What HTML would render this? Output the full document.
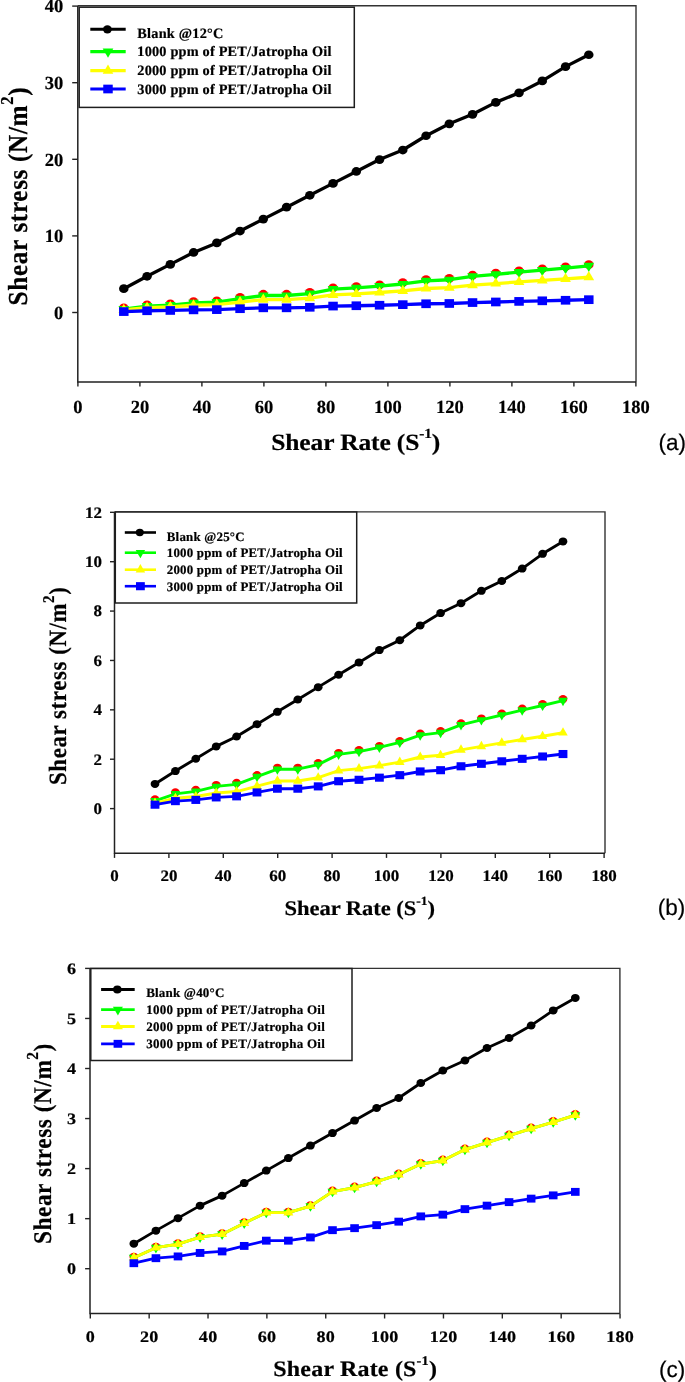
<!DOCTYPE html>
<html><head><meta charset="utf-8"><title>Shear stress vs shear rate</title>
<style>html,body{margin:0;padding:0;background:#fff;width:685px;height:1382px;overflow:hidden}svg{display:block;will-change:transform}text{text-rendering:geometricPrecision;stroke:#000;stroke-width:0.2px}</style>
</head><body>
<svg width="685" height="1382" viewBox="0 0 685 1382">
<rect width="685" height="1382" fill="#fff"/>
<path d="M77.8 5.8H636V381.9" fill="none" stroke="#333333" stroke-width="1.4"/>
<path d="M77.8 5.8V381.9H636" fill="none" stroke="#222222" stroke-width="1.5"/>
<path d="M72.2 312.5H77.8" stroke="#222222" stroke-width="1.4"/>
<text transform="translate(63.34 318.7) scale(1 1)" font-family='"Liberation Serif", serif' font-weight="bold" font-size="18.5" text-anchor="end">0</text>
<path d="M72.2 235.9H77.8" stroke="#222222" stroke-width="1.4"/>
<text transform="translate(63.34 242.1) scale(1 1)" font-family='"Liberation Serif", serif' font-weight="bold" font-size="18.5" text-anchor="end">10</text>
<path d="M72.2 159.3H77.8" stroke="#222222" stroke-width="1.4"/>
<text transform="translate(63.34 165.5) scale(1 1)" font-family='"Liberation Serif", serif' font-weight="bold" font-size="18.5" text-anchor="end">20</text>
<path d="M72.2 82.7H77.8" stroke="#222222" stroke-width="1.4"/>
<text transform="translate(63.34 88.9) scale(1 1)" font-family='"Liberation Serif", serif' font-weight="bold" font-size="18.5" text-anchor="end">30</text>
<path d="M72.2 6.1H77.8" stroke="#222222" stroke-width="1.4"/>
<text transform="translate(63.34 12.3) scale(1 1)" font-family='"Liberation Serif", serif' font-weight="bold" font-size="18.5" text-anchor="end">40</text>
<path d="M77.9 381.9V386.6" stroke="#222222" stroke-width="1.4"/>
<text transform="translate(77.9 412.8) scale(1 1)" font-family='"Liberation Serif", serif' font-weight="bold" font-size="18.5" text-anchor="middle">0</text>
<path d="M139.9 381.9V386.6" stroke="#222222" stroke-width="1.4"/>
<text transform="translate(139.9 412.8) scale(1 1)" font-family='"Liberation Serif", serif' font-weight="bold" font-size="18.5" text-anchor="middle">20</text>
<path d="M201.9 381.9V386.6" stroke="#222222" stroke-width="1.4"/>
<text transform="translate(201.9 412.8) scale(1 1)" font-family='"Liberation Serif", serif' font-weight="bold" font-size="18.5" text-anchor="middle">40</text>
<path d="M263.9 381.9V386.6" stroke="#222222" stroke-width="1.4"/>
<text transform="translate(263.9 412.8) scale(1 1)" font-family='"Liberation Serif", serif' font-weight="bold" font-size="18.5" text-anchor="middle">60</text>
<path d="M325.9 381.9V386.6" stroke="#222222" stroke-width="1.4"/>
<text transform="translate(325.9 412.8) scale(1 1)" font-family='"Liberation Serif", serif' font-weight="bold" font-size="18.5" text-anchor="middle">80</text>
<path d="M387.9 381.9V386.6" stroke="#222222" stroke-width="1.4"/>
<text transform="translate(387.9 412.8) scale(1 1)" font-family='"Liberation Serif", serif' font-weight="bold" font-size="18.5" text-anchor="middle">100</text>
<path d="M449.9 381.9V386.6" stroke="#222222" stroke-width="1.4"/>
<text transform="translate(449.9 412.8) scale(1 1)" font-family='"Liberation Serif", serif' font-weight="bold" font-size="18.5" text-anchor="middle">120</text>
<path d="M511.9 381.9V386.6" stroke="#222222" stroke-width="1.4"/>
<text transform="translate(511.9 412.8) scale(1 1)" font-family='"Liberation Serif", serif' font-weight="bold" font-size="18.5" text-anchor="middle">140</text>
<path d="M573.9 381.9V386.6" stroke="#222222" stroke-width="1.4"/>
<text transform="translate(573.9 412.8) scale(1 1)" font-family='"Liberation Serif", serif' font-weight="bold" font-size="18.5" text-anchor="middle">160</text>
<path d="M635.9 381.9V386.6" stroke="#222222" stroke-width="1.4"/>
<text transform="translate(635.9 412.8) scale(1 1)" font-family='"Liberation Serif", serif' font-weight="bold" font-size="18.5" text-anchor="middle">180</text>
<circle transform="translate(123.8 307.86) scale(1.09 1)" r="4.35" fill="#ff0000"/>
<circle transform="translate(147.05 304.83) scale(1.09 1)" r="4.35" fill="#ff0000"/>
<circle transform="translate(170.3 303.77) scale(1.09 1)" r="4.35" fill="#ff0000"/>
<circle transform="translate(193.55 301.64) scale(1.09 1)" r="4.35" fill="#ff0000"/>
<circle transform="translate(216.8 300.73) scale(1.09 1)" r="4.35" fill="#ff0000"/>
<circle transform="translate(240.05 297.4) scale(1.09 1)" r="4.35" fill="#ff0000"/>
<circle transform="translate(263.3 294.21) scale(1.09 1)" r="4.35" fill="#ff0000"/>
<circle transform="translate(286.55 294.21) scale(1.09 1)" r="4.35" fill="#ff0000"/>
<circle transform="translate(309.8 292.24) scale(1.09 1)" r="4.35" fill="#ff0000"/>
<circle transform="translate(333.05 287.84) scale(1.09 1)" r="4.35" fill="#ff0000"/>
<circle transform="translate(356.3 286.63) scale(1.09 1)" r="4.35" fill="#ff0000"/>
<circle transform="translate(379.55 284.81) scale(1.09 1)" r="4.35" fill="#ff0000"/>
<circle transform="translate(402.8 282.69) scale(1.09 1)" r="4.35" fill="#ff0000"/>
<circle transform="translate(426.05 279.5) scale(1.09 1)" r="4.35" fill="#ff0000"/>
<circle transform="translate(449.3 278.44) scale(1.09 1)" r="4.35" fill="#ff0000"/>
<circle transform="translate(472.55 275.1) scale(1.09 1)" r="4.35" fill="#ff0000"/>
<circle transform="translate(495.8 272.98) scale(1.09 1)" r="4.35" fill="#ff0000"/>
<circle transform="translate(519.05 270.86) scale(1.09 1)" r="4.35" fill="#ff0000"/>
<circle transform="translate(542.3 268.73) scale(1.09 1)" r="4.35" fill="#ff0000"/>
<circle transform="translate(565.55 266.76) scale(1.09 1)" r="4.35" fill="#ff0000"/>
<circle transform="translate(588.8 264.64) scale(1.09 1)" r="4.35" fill="#ff0000"/>
<polyline points="123.8,309.16 147.05,306.13 170.3,305.07 193.55,302.94 216.8,302.03 240.05,298.7 263.3,295.51 286.55,295.51 309.8,293.54 333.05,289.14 356.3,287.93 379.55,286.11 402.8,283.99 426.05,280.8 449.3,279.74 472.55,276.4 495.8,274.28 519.05,272.16 542.3,270.03 565.55,268.06 588.8,265.94" fill="none" stroke="#00ff00" stroke-width="3.3" stroke-linejoin="round"/>
<path transform="translate(123.8 309.16) scale(1.09 1)" d="M-4.9 -3.07L4.9 -3.07L0 6.13Z" fill="#00ff00"/>
<path transform="translate(147.05 306.13) scale(1.09 1)" d="M-4.9 -3.07L4.9 -3.07L0 6.13Z" fill="#00ff00"/>
<path transform="translate(170.3 305.07) scale(1.09 1)" d="M-4.9 -3.07L4.9 -3.07L0 6.13Z" fill="#00ff00"/>
<path transform="translate(193.55 302.94) scale(1.09 1)" d="M-4.9 -3.07L4.9 -3.07L0 6.13Z" fill="#00ff00"/>
<path transform="translate(216.8 302.03) scale(1.09 1)" d="M-4.9 -3.07L4.9 -3.07L0 6.13Z" fill="#00ff00"/>
<path transform="translate(240.05 298.7) scale(1.09 1)" d="M-4.9 -3.07L4.9 -3.07L0 6.13Z" fill="#00ff00"/>
<path transform="translate(263.3 295.51) scale(1.09 1)" d="M-4.9 -3.07L4.9 -3.07L0 6.13Z" fill="#00ff00"/>
<path transform="translate(286.55 295.51) scale(1.09 1)" d="M-4.9 -3.07L4.9 -3.07L0 6.13Z" fill="#00ff00"/>
<path transform="translate(309.8 293.54) scale(1.09 1)" d="M-4.9 -3.07L4.9 -3.07L0 6.13Z" fill="#00ff00"/>
<path transform="translate(333.05 289.14) scale(1.09 1)" d="M-4.9 -3.07L4.9 -3.07L0 6.13Z" fill="#00ff00"/>
<path transform="translate(356.3 287.93) scale(1.09 1)" d="M-4.9 -3.07L4.9 -3.07L0 6.13Z" fill="#00ff00"/>
<path transform="translate(379.55 286.11) scale(1.09 1)" d="M-4.9 -3.07L4.9 -3.07L0 6.13Z" fill="#00ff00"/>
<path transform="translate(402.8 283.99) scale(1.09 1)" d="M-4.9 -3.07L4.9 -3.07L0 6.13Z" fill="#00ff00"/>
<path transform="translate(426.05 280.8) scale(1.09 1)" d="M-4.9 -3.07L4.9 -3.07L0 6.13Z" fill="#00ff00"/>
<path transform="translate(449.3 279.74) scale(1.09 1)" d="M-4.9 -3.07L4.9 -3.07L0 6.13Z" fill="#00ff00"/>
<path transform="translate(472.55 276.4) scale(1.09 1)" d="M-4.9 -3.07L4.9 -3.07L0 6.13Z" fill="#00ff00"/>
<path transform="translate(495.8 274.28) scale(1.09 1)" d="M-4.9 -3.07L4.9 -3.07L0 6.13Z" fill="#00ff00"/>
<path transform="translate(519.05 272.16) scale(1.09 1)" d="M-4.9 -3.07L4.9 -3.07L0 6.13Z" fill="#00ff00"/>
<path transform="translate(542.3 270.03) scale(1.09 1)" d="M-4.9 -3.07L4.9 -3.07L0 6.13Z" fill="#00ff00"/>
<path transform="translate(565.55 268.06) scale(1.09 1)" d="M-4.9 -3.07L4.9 -3.07L0 6.13Z" fill="#00ff00"/>
<path transform="translate(588.8 265.94) scale(1.09 1)" d="M-4.9 -3.07L4.9 -3.07L0 6.13Z" fill="#00ff00"/>
<polyline points="123.8,309.97 147.05,307.67 170.3,306.87 193.55,305.26 216.8,304.57 240.05,302.04 263.3,299.63 286.55,299.63 309.8,298.14 333.05,294.81 356.3,293.89 379.55,292.51 402.8,290.9 426.05,288.49 449.3,287.68 472.55,285.15 495.8,283.55 519.05,281.94 542.3,280.33 565.55,278.83 588.8,277.23" fill="none" stroke="#ffff00" stroke-width="3.3" stroke-linejoin="round"/>
<path transform="translate(123.8 309.97) scale(1.09 1)" d="M-4.9 3.07L4.9 3.07L0 -6.13Z" fill="#ffff00"/>
<path transform="translate(147.05 307.67) scale(1.09 1)" d="M-4.9 3.07L4.9 3.07L0 -6.13Z" fill="#ffff00"/>
<path transform="translate(170.3 306.87) scale(1.09 1)" d="M-4.9 3.07L4.9 3.07L0 -6.13Z" fill="#ffff00"/>
<path transform="translate(193.55 305.26) scale(1.09 1)" d="M-4.9 3.07L4.9 3.07L0 -6.13Z" fill="#ffff00"/>
<path transform="translate(216.8 304.57) scale(1.09 1)" d="M-4.9 3.07L4.9 3.07L0 -6.13Z" fill="#ffff00"/>
<path transform="translate(240.05 302.04) scale(1.09 1)" d="M-4.9 3.07L4.9 3.07L0 -6.13Z" fill="#ffff00"/>
<path transform="translate(263.3 299.63) scale(1.09 1)" d="M-4.9 3.07L4.9 3.07L0 -6.13Z" fill="#ffff00"/>
<path transform="translate(286.55 299.63) scale(1.09 1)" d="M-4.9 3.07L4.9 3.07L0 -6.13Z" fill="#ffff00"/>
<path transform="translate(309.8 298.14) scale(1.09 1)" d="M-4.9 3.07L4.9 3.07L0 -6.13Z" fill="#ffff00"/>
<path transform="translate(333.05 294.81) scale(1.09 1)" d="M-4.9 3.07L4.9 3.07L0 -6.13Z" fill="#ffff00"/>
<path transform="translate(356.3 293.89) scale(1.09 1)" d="M-4.9 3.07L4.9 3.07L0 -6.13Z" fill="#ffff00"/>
<path transform="translate(379.55 292.51) scale(1.09 1)" d="M-4.9 3.07L4.9 3.07L0 -6.13Z" fill="#ffff00"/>
<path transform="translate(402.8 290.9) scale(1.09 1)" d="M-4.9 3.07L4.9 3.07L0 -6.13Z" fill="#ffff00"/>
<path transform="translate(426.05 288.49) scale(1.09 1)" d="M-4.9 3.07L4.9 3.07L0 -6.13Z" fill="#ffff00"/>
<path transform="translate(449.3 287.68) scale(1.09 1)" d="M-4.9 3.07L4.9 3.07L0 -6.13Z" fill="#ffff00"/>
<path transform="translate(472.55 285.15) scale(1.09 1)" d="M-4.9 3.07L4.9 3.07L0 -6.13Z" fill="#ffff00"/>
<path transform="translate(495.8 283.55) scale(1.09 1)" d="M-4.9 3.07L4.9 3.07L0 -6.13Z" fill="#ffff00"/>
<path transform="translate(519.05 281.94) scale(1.09 1)" d="M-4.9 3.07L4.9 3.07L0 -6.13Z" fill="#ffff00"/>
<path transform="translate(542.3 280.33) scale(1.09 1)" d="M-4.9 3.07L4.9 3.07L0 -6.13Z" fill="#ffff00"/>
<path transform="translate(565.55 278.83) scale(1.09 1)" d="M-4.9 3.07L4.9 3.07L0 -6.13Z" fill="#ffff00"/>
<path transform="translate(588.8 277.23) scale(1.09 1)" d="M-4.9 3.07L4.9 3.07L0 -6.13Z" fill="#ffff00"/>
<polyline points="123.8,311.58 147.05,310.75 170.3,310.45 193.55,309.87 216.8,309.62 240.05,308.7 263.3,307.82 286.55,307.82 309.8,307.28 333.05,306.07 356.3,305.74 379.55,305.24 402.8,304.65 426.05,303.77 449.3,303.48 472.55,302.56 495.8,301.98 519.05,301.4 542.3,300.81 565.55,300.27 588.8,299.68" fill="none" stroke="#0000ff" stroke-width="3.3" stroke-linejoin="round"/>
<rect transform="translate(123.8 311.58) scale(1.09 1)" x="-4.35" y="-4.35" width="8.7" height="8.7" fill="#0000ff"/>
<rect transform="translate(147.05 310.75) scale(1.09 1)" x="-4.35" y="-4.35" width="8.7" height="8.7" fill="#0000ff"/>
<rect transform="translate(170.3 310.45) scale(1.09 1)" x="-4.35" y="-4.35" width="8.7" height="8.7" fill="#0000ff"/>
<rect transform="translate(193.55 309.87) scale(1.09 1)" x="-4.35" y="-4.35" width="8.7" height="8.7" fill="#0000ff"/>
<rect transform="translate(216.8 309.62) scale(1.09 1)" x="-4.35" y="-4.35" width="8.7" height="8.7" fill="#0000ff"/>
<rect transform="translate(240.05 308.7) scale(1.09 1)" x="-4.35" y="-4.35" width="8.7" height="8.7" fill="#0000ff"/>
<rect transform="translate(263.3 307.82) scale(1.09 1)" x="-4.35" y="-4.35" width="8.7" height="8.7" fill="#0000ff"/>
<rect transform="translate(286.55 307.82) scale(1.09 1)" x="-4.35" y="-4.35" width="8.7" height="8.7" fill="#0000ff"/>
<rect transform="translate(309.8 307.28) scale(1.09 1)" x="-4.35" y="-4.35" width="8.7" height="8.7" fill="#0000ff"/>
<rect transform="translate(333.05 306.07) scale(1.09 1)" x="-4.35" y="-4.35" width="8.7" height="8.7" fill="#0000ff"/>
<rect transform="translate(356.3 305.74) scale(1.09 1)" x="-4.35" y="-4.35" width="8.7" height="8.7" fill="#0000ff"/>
<rect transform="translate(379.55 305.24) scale(1.09 1)" x="-4.35" y="-4.35" width="8.7" height="8.7" fill="#0000ff"/>
<rect transform="translate(402.8 304.65) scale(1.09 1)" x="-4.35" y="-4.35" width="8.7" height="8.7" fill="#0000ff"/>
<rect transform="translate(426.05 303.77) scale(1.09 1)" x="-4.35" y="-4.35" width="8.7" height="8.7" fill="#0000ff"/>
<rect transform="translate(449.3 303.48) scale(1.09 1)" x="-4.35" y="-4.35" width="8.7" height="8.7" fill="#0000ff"/>
<rect transform="translate(472.55 302.56) scale(1.09 1)" x="-4.35" y="-4.35" width="8.7" height="8.7" fill="#0000ff"/>
<rect transform="translate(495.8 301.98) scale(1.09 1)" x="-4.35" y="-4.35" width="8.7" height="8.7" fill="#0000ff"/>
<rect transform="translate(519.05 301.4) scale(1.09 1)" x="-4.35" y="-4.35" width="8.7" height="8.7" fill="#0000ff"/>
<rect transform="translate(542.3 300.81) scale(1.09 1)" x="-4.35" y="-4.35" width="8.7" height="8.7" fill="#0000ff"/>
<rect transform="translate(565.55 300.27) scale(1.09 1)" x="-4.35" y="-4.35" width="8.7" height="8.7" fill="#0000ff"/>
<rect transform="translate(588.8 299.68) scale(1.09 1)" x="-4.35" y="-4.35" width="8.7" height="8.7" fill="#0000ff"/>
<polyline points="123.8,288.68 147.05,276.29 170.3,264.38 193.55,252.47 216.8,242.94 240.05,231.03 263.3,219.12 286.55,207.2 309.8,195.29 333.05,183.38 356.3,171.47 379.55,159.56 402.8,150.03 426.05,135.74 449.3,123.83 472.55,114.3 495.8,102.38 519.05,92.86 542.3,80.94 565.55,66.65 588.8,54.74" fill="none" stroke="#000000" stroke-width="3.3" stroke-linejoin="round"/>
<circle transform="translate(123.8 288.68) scale(1.09 1)" r="4.35" fill="#000000"/>
<circle transform="translate(147.05 276.29) scale(1.09 1)" r="4.35" fill="#000000"/>
<circle transform="translate(170.3 264.38) scale(1.09 1)" r="4.35" fill="#000000"/>
<circle transform="translate(193.55 252.47) scale(1.09 1)" r="4.35" fill="#000000"/>
<circle transform="translate(216.8 242.94) scale(1.09 1)" r="4.35" fill="#000000"/>
<circle transform="translate(240.05 231.03) scale(1.09 1)" r="4.35" fill="#000000"/>
<circle transform="translate(263.3 219.12) scale(1.09 1)" r="4.35" fill="#000000"/>
<circle transform="translate(286.55 207.2) scale(1.09 1)" r="4.35" fill="#000000"/>
<circle transform="translate(309.8 195.29) scale(1.09 1)" r="4.35" fill="#000000"/>
<circle transform="translate(333.05 183.38) scale(1.09 1)" r="4.35" fill="#000000"/>
<circle transform="translate(356.3 171.47) scale(1.09 1)" r="4.35" fill="#000000"/>
<circle transform="translate(379.55 159.56) scale(1.09 1)" r="4.35" fill="#000000"/>
<circle transform="translate(402.8 150.03) scale(1.09 1)" r="4.35" fill="#000000"/>
<circle transform="translate(426.05 135.74) scale(1.09 1)" r="4.35" fill="#000000"/>
<circle transform="translate(449.3 123.83) scale(1.09 1)" r="4.35" fill="#000000"/>
<circle transform="translate(472.55 114.3) scale(1.09 1)" r="4.35" fill="#000000"/>
<circle transform="translate(495.8 102.38) scale(1.09 1)" r="4.35" fill="#000000"/>
<circle transform="translate(519.05 92.86) scale(1.09 1)" r="4.35" fill="#000000"/>
<circle transform="translate(542.3 80.94) scale(1.09 1)" r="4.35" fill="#000000"/>
<circle transform="translate(565.55 66.65) scale(1.09 1)" r="4.35" fill="#000000"/>
<circle transform="translate(588.8 54.74) scale(1.09 1)" r="4.35" fill="#000000"/>
<rect x="79.2" y="7.2" width="275.1" height="100.2" fill="#fff" stroke="#1e1e1e" stroke-width="1.5"/>
<path d="M90.3 29.3H125.7" stroke="#000000" stroke-width="3.1"/>
<circle transform="translate(107.4 29.3) scale(1.09 1)" r="4.1" fill="#000000"/>
<text transform="translate(137.31 38.3) scale(1 1)" font-family='"Liberation Serif", serif' font-weight="bold" font-size="14.3" text-anchor="start" textLength="86" lengthAdjust="spacing">Blank @12°C</text>
<path d="M90.3 51.6H125.7" stroke="#00ff00" stroke-width="3.1"/>
<path transform="translate(108 51.6) scale(1.09 1)" d="M-4.9 -3.07L4.9 -3.07L0 6.13Z" fill="#00ff00"/>
<text transform="translate(137.31 56.4) scale(1 1)" font-family='"Liberation Serif", serif' font-weight="bold" font-size="14.3" text-anchor="start" textLength="194.1" lengthAdjust="spacing">1000 ppm of PET/Jatropha Oil</text>
<path d="M90.3 70.6H125.7" stroke="#ffff00" stroke-width="3.1"/>
<path transform="translate(108 70.6) scale(1.09 1)" d="M-4.9 3.07L4.9 3.07L0 -6.13Z" fill="#ffff00"/>
<text transform="translate(137.31 75.2) scale(1 1)" font-family='"Liberation Serif", serif' font-weight="bold" font-size="14.3" text-anchor="start" textLength="194.1" lengthAdjust="spacing">2000 ppm of PET/Jatropha Oil</text>
<path d="M90.3 89H125.7" stroke="#0000ff" stroke-width="3.1"/>
<rect transform="translate(108 89) scale(1.09 1)" x="-4.35" y="-4.35" width="8.7" height="8.7" fill="#0000ff"/>
<text transform="translate(137.31 93.6) scale(1 1)" font-family='"Liberation Serif", serif' font-weight="bold" font-size="14.3" text-anchor="start" textLength="194.1" lengthAdjust="spacing">3000 ppm of PET/Jatropha Oil</text>
<text transform="translate(271.2 449.8) scale(1.09 1)" font-family='"Liberation Serif", serif' font-weight="bold" font-size="23.4" textLength="155.14" lengthAdjust="spacing">Shear Rate (S<tspan font-size="14.04" dy="-11.47">-1</tspan><tspan dy="11.47">)</tspan></text>
<text transform="translate(27 305.39) scale(1.09 1) rotate(-90)" font-family='"Liberation Serif", serif' font-weight="bold" font-size="25.2" textLength="218" lengthAdjust="spacing">Shear stress (N/m<tspan font-size="16.63" dy="-12.6">2</tspan><tspan dy="12.6">)</tspan></text>
<text x="658.55" y="450.1" font-family='"Liberation Sans", sans-serif' font-size="22.5">(a)</text>
<path d="M114.5 511.9H605V853.3" fill="none" stroke="#333333" stroke-width="1.4"/>
<path d="M114.5 511.9V853.3H605" fill="none" stroke="#222222" stroke-width="1.5"/>
<path d="M110 808.6H114.5" stroke="#222222" stroke-width="1.4"/>
<text transform="translate(101.98 813.96) scale(1.06 1)" font-family='"Liberation Serif", serif' font-weight="bold" font-size="16" text-anchor="end">0</text>
<path d="M110 759.22H114.5" stroke="#222222" stroke-width="1.4"/>
<text transform="translate(101.98 764.58) scale(1.06 1)" font-family='"Liberation Serif", serif' font-weight="bold" font-size="16" text-anchor="end">2</text>
<path d="M110 709.84H114.5" stroke="#222222" stroke-width="1.4"/>
<text transform="translate(101.98 715.2) scale(1.06 1)" font-family='"Liberation Serif", serif' font-weight="bold" font-size="16" text-anchor="end">4</text>
<path d="M110 660.46H114.5" stroke="#222222" stroke-width="1.4"/>
<text transform="translate(101.98 665.82) scale(1.06 1)" font-family='"Liberation Serif", serif' font-weight="bold" font-size="16" text-anchor="end">6</text>
<path d="M110 611.08H114.5" stroke="#222222" stroke-width="1.4"/>
<text transform="translate(101.98 616.44) scale(1.06 1)" font-family='"Liberation Serif", serif' font-weight="bold" font-size="16" text-anchor="end">8</text>
<path d="M110 561.7H114.5" stroke="#222222" stroke-width="1.4"/>
<text transform="translate(101.98 567.06) scale(1.06 1)" font-family='"Liberation Serif", serif' font-weight="bold" font-size="16" text-anchor="end">10</text>
<path d="M110 512.32H114.5" stroke="#222222" stroke-width="1.4"/>
<text transform="translate(101.98 517.68) scale(1.06 1)" font-family='"Liberation Serif", serif' font-weight="bold" font-size="16" text-anchor="end">12</text>
<path d="M114.5 853.3V857.9" stroke="#222222" stroke-width="1.4"/>
<text transform="translate(114.5 880.8) scale(1.06 1)" font-family='"Liberation Serif", serif' font-weight="bold" font-size="16" text-anchor="middle">0</text>
<path d="M168.9 853.3V857.9" stroke="#222222" stroke-width="1.4"/>
<text transform="translate(168.9 880.8) scale(1.06 1)" font-family='"Liberation Serif", serif' font-weight="bold" font-size="16" text-anchor="middle">20</text>
<path d="M223.3 853.3V857.9" stroke="#222222" stroke-width="1.4"/>
<text transform="translate(223.3 880.8) scale(1.06 1)" font-family='"Liberation Serif", serif' font-weight="bold" font-size="16" text-anchor="middle">40</text>
<path d="M277.7 853.3V857.9" stroke="#222222" stroke-width="1.4"/>
<text transform="translate(277.7 880.8) scale(1.06 1)" font-family='"Liberation Serif", serif' font-weight="bold" font-size="16" text-anchor="middle">60</text>
<path d="M332.1 853.3V857.9" stroke="#222222" stroke-width="1.4"/>
<text transform="translate(332.1 880.8) scale(1.06 1)" font-family='"Liberation Serif", serif' font-weight="bold" font-size="16" text-anchor="middle">80</text>
<path d="M386.5 853.3V857.9" stroke="#222222" stroke-width="1.4"/>
<text transform="translate(386.5 880.8) scale(1.06 1)" font-family='"Liberation Serif", serif' font-weight="bold" font-size="16" text-anchor="middle">100</text>
<path d="M440.9 853.3V857.9" stroke="#222222" stroke-width="1.4"/>
<text transform="translate(440.9 880.8) scale(1.06 1)" font-family='"Liberation Serif", serif' font-weight="bold" font-size="16" text-anchor="middle">120</text>
<path d="M495.3 853.3V857.9" stroke="#222222" stroke-width="1.4"/>
<text transform="translate(495.3 880.8) scale(1.06 1)" font-family='"Liberation Serif", serif' font-weight="bold" font-size="16" text-anchor="middle">140</text>
<path d="M549.7 853.3V857.9" stroke="#222222" stroke-width="1.4"/>
<text transform="translate(549.7 880.8) scale(1.06 1)" font-family='"Liberation Serif", serif' font-weight="bold" font-size="16" text-anchor="middle">160</text>
<path d="M604.1 853.3V857.9" stroke="#222222" stroke-width="1.4"/>
<text transform="translate(604.1 880.8) scale(1.06 1)" font-family='"Liberation Serif", serif' font-weight="bold" font-size="16" text-anchor="middle">180</text>
<circle transform="translate(155 799.36) scale(1.09 1)" r="4" fill="#ff0000"/>
<circle transform="translate(175.4 792.32) scale(1.09 1)" r="4" fill="#ff0000"/>
<circle transform="translate(195.8 789.86) scale(1.09 1)" r="4" fill="#ff0000"/>
<circle transform="translate(216.2 784.93) scale(1.09 1)" r="4" fill="#ff0000"/>
<circle transform="translate(236.6 782.82) scale(1.09 1)" r="4" fill="#ff0000"/>
<circle transform="translate(257 775.08) scale(1.09 1)" r="4" fill="#ff0000"/>
<circle transform="translate(277.4 767.69) scale(1.09 1)" r="4" fill="#ff0000"/>
<circle transform="translate(297.8 767.69) scale(1.09 1)" r="4" fill="#ff0000"/>
<circle transform="translate(318.2 763.12) scale(1.09 1)" r="4" fill="#ff0000"/>
<circle transform="translate(338.6 752.92) scale(1.09 1)" r="4" fill="#ff0000"/>
<circle transform="translate(359 750.1) scale(1.09 1)" r="4" fill="#ff0000"/>
<circle transform="translate(379.4 745.88) scale(1.09 1)" r="4" fill="#ff0000"/>
<circle transform="translate(399.8 740.96) scale(1.09 1)" r="4" fill="#ff0000"/>
<circle transform="translate(420.2 733.57) scale(1.09 1)" r="4" fill="#ff0000"/>
<circle transform="translate(440.6 731.1) scale(1.09 1)" r="4" fill="#ff0000"/>
<circle transform="translate(461 723.36) scale(1.09 1)" r="4" fill="#ff0000"/>
<circle transform="translate(481.4 718.44) scale(1.09 1)" r="4" fill="#ff0000"/>
<circle transform="translate(501.8 713.51) scale(1.09 1)" r="4" fill="#ff0000"/>
<circle transform="translate(522.2 708.59) scale(1.09 1)" r="4" fill="#ff0000"/>
<circle transform="translate(542.6 704.01) scale(1.09 1)" r="4" fill="#ff0000"/>
<circle transform="translate(563 699.09) scale(1.09 1)" r="4" fill="#ff0000"/>
<polyline points="155,800.86 175.4,793.82 195.8,791.36 216.2,786.43 236.6,784.32 257,776.58 277.4,769.19 297.8,769.19 318.2,764.62 338.6,754.42 359,751.6 379.4,747.38 399.8,742.46 420.2,735.07 440.6,732.6 461,724.86 481.4,719.94 501.8,715.01 522.2,710.09 542.6,705.51 563,700.59" fill="none" stroke="#00ff00" stroke-width="2.9" stroke-linejoin="round"/>
<path transform="translate(155 800.86) scale(1.09 1)" d="M-4.35 -2.8L4.35 -2.8L0 5.6Z" fill="#00ff00"/>
<path transform="translate(175.4 793.82) scale(1.09 1)" d="M-4.35 -2.8L4.35 -2.8L0 5.6Z" fill="#00ff00"/>
<path transform="translate(195.8 791.36) scale(1.09 1)" d="M-4.35 -2.8L4.35 -2.8L0 5.6Z" fill="#00ff00"/>
<path transform="translate(216.2 786.43) scale(1.09 1)" d="M-4.35 -2.8L4.35 -2.8L0 5.6Z" fill="#00ff00"/>
<path transform="translate(236.6 784.32) scale(1.09 1)" d="M-4.35 -2.8L4.35 -2.8L0 5.6Z" fill="#00ff00"/>
<path transform="translate(257 776.58) scale(1.09 1)" d="M-4.35 -2.8L4.35 -2.8L0 5.6Z" fill="#00ff00"/>
<path transform="translate(277.4 769.19) scale(1.09 1)" d="M-4.35 -2.8L4.35 -2.8L0 5.6Z" fill="#00ff00"/>
<path transform="translate(297.8 769.19) scale(1.09 1)" d="M-4.35 -2.8L4.35 -2.8L0 5.6Z" fill="#00ff00"/>
<path transform="translate(318.2 764.62) scale(1.09 1)" d="M-4.35 -2.8L4.35 -2.8L0 5.6Z" fill="#00ff00"/>
<path transform="translate(338.6 754.42) scale(1.09 1)" d="M-4.35 -2.8L4.35 -2.8L0 5.6Z" fill="#00ff00"/>
<path transform="translate(359 751.6) scale(1.09 1)" d="M-4.35 -2.8L4.35 -2.8L0 5.6Z" fill="#00ff00"/>
<path transform="translate(379.4 747.38) scale(1.09 1)" d="M-4.35 -2.8L4.35 -2.8L0 5.6Z" fill="#00ff00"/>
<path transform="translate(399.8 742.46) scale(1.09 1)" d="M-4.35 -2.8L4.35 -2.8L0 5.6Z" fill="#00ff00"/>
<path transform="translate(420.2 735.07) scale(1.09 1)" d="M-4.35 -2.8L4.35 -2.8L0 5.6Z" fill="#00ff00"/>
<path transform="translate(440.6 732.6) scale(1.09 1)" d="M-4.35 -2.8L4.35 -2.8L0 5.6Z" fill="#00ff00"/>
<path transform="translate(461 724.86) scale(1.09 1)" d="M-4.35 -2.8L4.35 -2.8L0 5.6Z" fill="#00ff00"/>
<path transform="translate(481.4 719.94) scale(1.09 1)" d="M-4.35 -2.8L4.35 -2.8L0 5.6Z" fill="#00ff00"/>
<path transform="translate(501.8 715.01) scale(1.09 1)" d="M-4.35 -2.8L4.35 -2.8L0 5.6Z" fill="#00ff00"/>
<path transform="translate(522.2 710.09) scale(1.09 1)" d="M-4.35 -2.8L4.35 -2.8L0 5.6Z" fill="#00ff00"/>
<path transform="translate(542.6 705.51) scale(1.09 1)" d="M-4.35 -2.8L4.35 -2.8L0 5.6Z" fill="#00ff00"/>
<path transform="translate(563 700.59) scale(1.09 1)" d="M-4.35 -2.8L4.35 -2.8L0 5.6Z" fill="#00ff00"/>
<polyline points="155,803.17 175.4,798.23 195.8,796.5 216.2,793.05 236.6,791.56 257,786.13 277.4,780.95 297.8,780.95 318.2,777.74 338.6,770.58 359,768.6 379.4,765.64 399.8,762.18 420.2,757 440.6,755.27 461,749.84 481.4,746.38 501.8,742.92 522.2,739.47 542.6,736.26 563,732.8" fill="none" stroke="#ffff00" stroke-width="2.9" stroke-linejoin="round"/>
<path transform="translate(155 803.17) scale(1.09 1)" d="M-4.35 2.8L4.35 2.8L0 -5.6Z" fill="#ffff00"/>
<path transform="translate(175.4 798.23) scale(1.09 1)" d="M-4.35 2.8L4.35 2.8L0 -5.6Z" fill="#ffff00"/>
<path transform="translate(195.8 796.5) scale(1.09 1)" d="M-4.35 2.8L4.35 2.8L0 -5.6Z" fill="#ffff00"/>
<path transform="translate(216.2 793.05) scale(1.09 1)" d="M-4.35 2.8L4.35 2.8L0 -5.6Z" fill="#ffff00"/>
<path transform="translate(236.6 791.56) scale(1.09 1)" d="M-4.35 2.8L4.35 2.8L0 -5.6Z" fill="#ffff00"/>
<path transform="translate(257 786.13) scale(1.09 1)" d="M-4.35 2.8L4.35 2.8L0 -5.6Z" fill="#ffff00"/>
<path transform="translate(277.4 780.95) scale(1.09 1)" d="M-4.35 2.8L4.35 2.8L0 -5.6Z" fill="#ffff00"/>
<path transform="translate(297.8 780.95) scale(1.09 1)" d="M-4.35 2.8L4.35 2.8L0 -5.6Z" fill="#ffff00"/>
<path transform="translate(318.2 777.74) scale(1.09 1)" d="M-4.35 2.8L4.35 2.8L0 -5.6Z" fill="#ffff00"/>
<path transform="translate(338.6 770.58) scale(1.09 1)" d="M-4.35 2.8L4.35 2.8L0 -5.6Z" fill="#ffff00"/>
<path transform="translate(359 768.6) scale(1.09 1)" d="M-4.35 2.8L4.35 2.8L0 -5.6Z" fill="#ffff00"/>
<path transform="translate(379.4 765.64) scale(1.09 1)" d="M-4.35 2.8L4.35 2.8L0 -5.6Z" fill="#ffff00"/>
<path transform="translate(399.8 762.18) scale(1.09 1)" d="M-4.35 2.8L4.35 2.8L0 -5.6Z" fill="#ffff00"/>
<path transform="translate(420.2 757) scale(1.09 1)" d="M-4.35 2.8L4.35 2.8L0 -5.6Z" fill="#ffff00"/>
<path transform="translate(440.6 755.27) scale(1.09 1)" d="M-4.35 2.8L4.35 2.8L0 -5.6Z" fill="#ffff00"/>
<path transform="translate(461 749.84) scale(1.09 1)" d="M-4.35 2.8L4.35 2.8L0 -5.6Z" fill="#ffff00"/>
<path transform="translate(481.4 746.38) scale(1.09 1)" d="M-4.35 2.8L4.35 2.8L0 -5.6Z" fill="#ffff00"/>
<path transform="translate(501.8 742.92) scale(1.09 1)" d="M-4.35 2.8L4.35 2.8L0 -5.6Z" fill="#ffff00"/>
<path transform="translate(522.2 739.47) scale(1.09 1)" d="M-4.35 2.8L4.35 2.8L0 -5.6Z" fill="#ffff00"/>
<path transform="translate(542.6 736.26) scale(1.09 1)" d="M-4.35 2.8L4.35 2.8L0 -5.6Z" fill="#ffff00"/>
<path transform="translate(563 732.8) scale(1.09 1)" d="M-4.35 2.8L4.35 2.8L0 -5.6Z" fill="#ffff00"/>
<polyline points="155,804.69 175.4,801.13 195.8,799.89 216.2,797.4 236.6,796.33 257,792.42 277.4,788.69 297.8,788.69 318.2,786.38 338.6,781.22 359,779.8 379.4,777.67 399.8,775.18 420.2,771.45 440.6,770.2 461,766.29 481.4,763.8 501.8,761.31 522.2,758.82 542.6,756.51 563,754.03" fill="none" stroke="#0000ff" stroke-width="2.9" stroke-linejoin="round"/>
<rect transform="translate(155 804.69) scale(1.09 1)" x="-4.05" y="-4.05" width="8.1" height="8.1" fill="#0000ff"/>
<rect transform="translate(175.4 801.13) scale(1.09 1)" x="-4.05" y="-4.05" width="8.1" height="8.1" fill="#0000ff"/>
<rect transform="translate(195.8 799.89) scale(1.09 1)" x="-4.05" y="-4.05" width="8.1" height="8.1" fill="#0000ff"/>
<rect transform="translate(216.2 797.4) scale(1.09 1)" x="-4.05" y="-4.05" width="8.1" height="8.1" fill="#0000ff"/>
<rect transform="translate(236.6 796.33) scale(1.09 1)" x="-4.05" y="-4.05" width="8.1" height="8.1" fill="#0000ff"/>
<rect transform="translate(257 792.42) scale(1.09 1)" x="-4.05" y="-4.05" width="8.1" height="8.1" fill="#0000ff"/>
<rect transform="translate(277.4 788.69) scale(1.09 1)" x="-4.05" y="-4.05" width="8.1" height="8.1" fill="#0000ff"/>
<rect transform="translate(297.8 788.69) scale(1.09 1)" x="-4.05" y="-4.05" width="8.1" height="8.1" fill="#0000ff"/>
<rect transform="translate(318.2 786.38) scale(1.09 1)" x="-4.05" y="-4.05" width="8.1" height="8.1" fill="#0000ff"/>
<rect transform="translate(338.6 781.22) scale(1.09 1)" x="-4.05" y="-4.05" width="8.1" height="8.1" fill="#0000ff"/>
<rect transform="translate(359 779.8) scale(1.09 1)" x="-4.05" y="-4.05" width="8.1" height="8.1" fill="#0000ff"/>
<rect transform="translate(379.4 777.67) scale(1.09 1)" x="-4.05" y="-4.05" width="8.1" height="8.1" fill="#0000ff"/>
<rect transform="translate(399.8 775.18) scale(1.09 1)" x="-4.05" y="-4.05" width="8.1" height="8.1" fill="#0000ff"/>
<rect transform="translate(420.2 771.45) scale(1.09 1)" x="-4.05" y="-4.05" width="8.1" height="8.1" fill="#0000ff"/>
<rect transform="translate(440.6 770.2) scale(1.09 1)" x="-4.05" y="-4.05" width="8.1" height="8.1" fill="#0000ff"/>
<rect transform="translate(461 766.29) scale(1.09 1)" x="-4.05" y="-4.05" width="8.1" height="8.1" fill="#0000ff"/>
<rect transform="translate(481.4 763.8) scale(1.09 1)" x="-4.05" y="-4.05" width="8.1" height="8.1" fill="#0000ff"/>
<rect transform="translate(501.8 761.31) scale(1.09 1)" x="-4.05" y="-4.05" width="8.1" height="8.1" fill="#0000ff"/>
<rect transform="translate(522.2 758.82) scale(1.09 1)" x="-4.05" y="-4.05" width="8.1" height="8.1" fill="#0000ff"/>
<rect transform="translate(542.6 756.51) scale(1.09 1)" x="-4.05" y="-4.05" width="8.1" height="8.1" fill="#0000ff"/>
<rect transform="translate(563 754.03) scale(1.09 1)" x="-4.05" y="-4.05" width="8.1" height="8.1" fill="#0000ff"/>
<polyline points="155,783.91 175.4,771.07 195.8,758.73 216.2,746.38 236.6,736.51 257,724.16 277.4,711.82 297.8,699.47 318.2,687.13 338.6,674.78 359,662.44 379.4,650.09 399.8,640.21 420.2,625.4 440.6,613.06 461,603.18 481.4,590.83 501.8,580.96 522.2,568.61 542.6,553.8 563,541.45" fill="none" stroke="#000000" stroke-width="2.9" stroke-linejoin="round"/>
<circle transform="translate(155 783.91) scale(1.09 1)" r="4" fill="#000000"/>
<circle transform="translate(175.4 771.07) scale(1.09 1)" r="4" fill="#000000"/>
<circle transform="translate(195.8 758.73) scale(1.09 1)" r="4" fill="#000000"/>
<circle transform="translate(216.2 746.38) scale(1.09 1)" r="4" fill="#000000"/>
<circle transform="translate(236.6 736.51) scale(1.09 1)" r="4" fill="#000000"/>
<circle transform="translate(257 724.16) scale(1.09 1)" r="4" fill="#000000"/>
<circle transform="translate(277.4 711.82) scale(1.09 1)" r="4" fill="#000000"/>
<circle transform="translate(297.8 699.47) scale(1.09 1)" r="4" fill="#000000"/>
<circle transform="translate(318.2 687.13) scale(1.09 1)" r="4" fill="#000000"/>
<circle transform="translate(338.6 674.78) scale(1.09 1)" r="4" fill="#000000"/>
<circle transform="translate(359 662.44) scale(1.09 1)" r="4" fill="#000000"/>
<circle transform="translate(379.4 650.09) scale(1.09 1)" r="4" fill="#000000"/>
<circle transform="translate(399.8 640.21) scale(1.09 1)" r="4" fill="#000000"/>
<circle transform="translate(420.2 625.4) scale(1.09 1)" r="4" fill="#000000"/>
<circle transform="translate(440.6 613.06) scale(1.09 1)" r="4" fill="#000000"/>
<circle transform="translate(461 603.18) scale(1.09 1)" r="4" fill="#000000"/>
<circle transform="translate(481.4 590.83) scale(1.09 1)" r="4" fill="#000000"/>
<circle transform="translate(501.8 580.96) scale(1.09 1)" r="4" fill="#000000"/>
<circle transform="translate(522.2 568.61) scale(1.09 1)" r="4" fill="#000000"/>
<circle transform="translate(542.6 553.8) scale(1.09 1)" r="4" fill="#000000"/>
<circle transform="translate(563 541.45) scale(1.09 1)" r="4" fill="#000000"/>
<rect x="115.3" y="512" width="241.4" height="91" fill="#fff" stroke="#1e1e1e" stroke-width="1.5"/>
<path d="M124.8 532.5H156" stroke="#000000" stroke-width="2.6"/>
<circle transform="translate(139.8 532.5) scale(1.09 1)" r="3.7" fill="#000000"/>
<text transform="translate(166.74 540.6) scale(1 1)" font-family='"Liberation Serif", serif' font-weight="bold" font-size="12.9" text-anchor="start" textLength="77.8" lengthAdjust="spacing">Blank @25°C</text>
<path d="M124.8 552.7H156" stroke="#00ff00" stroke-width="2.6"/>
<path transform="translate(140.4 552.7) scale(1.09 1)" d="M-4.35 -2.8L4.35 -2.8L0 5.6Z" fill="#00ff00"/>
<text transform="translate(166.74 557.3) scale(1 1)" font-family='"Liberation Serif", serif' font-weight="bold" font-size="12.9" text-anchor="start" textLength="175.8" lengthAdjust="spacing">1000 ppm of PET/Jatropha Oil</text>
<path d="M124.8 569.7H156" stroke="#ffff00" stroke-width="2.6"/>
<path transform="translate(140.4 569.7) scale(1.09 1)" d="M-4.35 2.8L4.35 2.8L0 -5.6Z" fill="#ffff00"/>
<text transform="translate(166.74 573.7) scale(1 1)" font-family='"Liberation Serif", serif' font-weight="bold" font-size="12.9" text-anchor="start" textLength="175.8" lengthAdjust="spacing">2000 ppm of PET/Jatropha Oil</text>
<path d="M124.8 586.2H156" stroke="#0000ff" stroke-width="2.6"/>
<rect transform="translate(140.4 586.2) scale(1.09 1)" x="-4.05" y="-4.05" width="8.1" height="8.1" fill="#0000ff"/>
<text transform="translate(166.74 590.6) scale(1 1)" font-family='"Liberation Serif", serif' font-weight="bold" font-size="12.9" text-anchor="start" textLength="175.8" lengthAdjust="spacing">3000 ppm of PET/Jatropha Oil</text>
<text transform="translate(284.46 915) scale(1.09 1)" font-family='"Liberation Serif", serif' font-weight="bold" font-size="20.7" textLength="138.07" lengthAdjust="spacing">Shear Rate (S<tspan font-size="12.42" dy="-10.14">-1</tspan><tspan dy="10.14">)</tspan></text>
<text transform="translate(66.3 784.95) scale(1.09 1) rotate(-90)" font-family='"Liberation Serif", serif' font-weight="bold" font-size="22.8" textLength="197.8" lengthAdjust="spacing">Shear stress (N/m<tspan font-size="15.05" dy="-11.4">2</tspan><tspan dy="11.4">)</tspan></text>
<text x="657.75" y="915.3" font-family='"Liberation Sans", sans-serif' font-size="22.5">(b)</text>
<path d="M90 968.4H619.9V1313.6" fill="none" stroke="#333333" stroke-width="1.4"/>
<path d="M90 968.4V1313.6H619.9" fill="none" stroke="#222222" stroke-width="1.5"/>
<path d="M85.1 1268.7H90" stroke="#222222" stroke-width="1.4"/>
<text transform="translate(76.32 1274.06) scale(1.13 1)" font-family='"Liberation Serif", serif' font-weight="bold" font-size="16" text-anchor="end" letter-spacing="0.2">0</text>
<path d="M85.1 1218.65H90" stroke="#222222" stroke-width="1.4"/>
<text transform="translate(76.32 1224.01) scale(1.13 1)" font-family='"Liberation Serif", serif' font-weight="bold" font-size="16" text-anchor="end" letter-spacing="0.2">1</text>
<path d="M85.1 1168.6H90" stroke="#222222" stroke-width="1.4"/>
<text transform="translate(76.32 1173.96) scale(1.13 1)" font-family='"Liberation Serif", serif' font-weight="bold" font-size="16" text-anchor="end" letter-spacing="0.2">2</text>
<path d="M85.1 1118.55H90" stroke="#222222" stroke-width="1.4"/>
<text transform="translate(76.32 1123.91) scale(1.13 1)" font-family='"Liberation Serif", serif' font-weight="bold" font-size="16" text-anchor="end" letter-spacing="0.2">3</text>
<path d="M85.1 1068.5H90" stroke="#222222" stroke-width="1.4"/>
<text transform="translate(76.32 1073.86) scale(1.13 1)" font-family='"Liberation Serif", serif' font-weight="bold" font-size="16" text-anchor="end" letter-spacing="0.2">4</text>
<path d="M85.1 1018.45H90" stroke="#222222" stroke-width="1.4"/>
<text transform="translate(76.32 1023.81) scale(1.13 1)" font-family='"Liberation Serif", serif' font-weight="bold" font-size="16" text-anchor="end" letter-spacing="0.2">5</text>
<path d="M85.1 968.4H90" stroke="#222222" stroke-width="1.4"/>
<text transform="translate(76.32 973.76) scale(1.13 1)" font-family='"Liberation Serif", serif' font-weight="bold" font-size="16" text-anchor="end" letter-spacing="0.2">6</text>
<path d="M90.3 1313.6V1318.5" stroke="#222222" stroke-width="1.4"/>
<text transform="translate(90.41 1341.8) scale(1.13 1)" font-family='"Liberation Serif", serif' font-weight="bold" font-size="16" text-anchor="middle" letter-spacing="0.2">0</text>
<path d="M149.16 1313.6V1318.5" stroke="#222222" stroke-width="1.4"/>
<text transform="translate(149.27 1341.8) scale(1.13 1)" font-family='"Liberation Serif", serif' font-weight="bold" font-size="16" text-anchor="middle" letter-spacing="0.2">20</text>
<path d="M208.02 1313.6V1318.5" stroke="#222222" stroke-width="1.4"/>
<text transform="translate(208.13 1341.8) scale(1.13 1)" font-family='"Liberation Serif", serif' font-weight="bold" font-size="16" text-anchor="middle" letter-spacing="0.2">40</text>
<path d="M266.88 1313.6V1318.5" stroke="#222222" stroke-width="1.4"/>
<text transform="translate(266.99 1341.8) scale(1.13 1)" font-family='"Liberation Serif", serif' font-weight="bold" font-size="16" text-anchor="middle" letter-spacing="0.2">60</text>
<path d="M325.74 1313.6V1318.5" stroke="#222222" stroke-width="1.4"/>
<text transform="translate(325.85 1341.8) scale(1.13 1)" font-family='"Liberation Serif", serif' font-weight="bold" font-size="16" text-anchor="middle" letter-spacing="0.2">80</text>
<path d="M384.6 1313.6V1318.5" stroke="#222222" stroke-width="1.4"/>
<text transform="translate(384.71 1341.8) scale(1.13 1)" font-family='"Liberation Serif", serif' font-weight="bold" font-size="16" text-anchor="middle" letter-spacing="0.2">100</text>
<path d="M443.46 1313.6V1318.5" stroke="#222222" stroke-width="1.4"/>
<text transform="translate(443.57 1341.8) scale(1.13 1)" font-family='"Liberation Serif", serif' font-weight="bold" font-size="16" text-anchor="middle" letter-spacing="0.2">120</text>
<path d="M502.32 1313.6V1318.5" stroke="#222222" stroke-width="1.4"/>
<text transform="translate(502.43 1341.8) scale(1.13 1)" font-family='"Liberation Serif", serif' font-weight="bold" font-size="16" text-anchor="middle" letter-spacing="0.2">140</text>
<path d="M561.18 1313.6V1318.5" stroke="#222222" stroke-width="1.4"/>
<text transform="translate(561.29 1341.8) scale(1.13 1)" font-family='"Liberation Serif", serif' font-weight="bold" font-size="16" text-anchor="middle" letter-spacing="0.2">160</text>
<path d="M620.04 1313.6V1318.5" stroke="#222222" stroke-width="1.4"/>
<text transform="translate(620.15 1341.8) scale(1.13 1)" font-family='"Liberation Serif", serif' font-weight="bold" font-size="16" text-anchor="middle" letter-spacing="0.2">180</text>
<circle transform="translate(133.84 1256.69) scale(1.09 1)" r="4" fill="#ff0000"/>
<circle transform="translate(155.92 1246.68) scale(1.09 1)" r="4" fill="#ff0000"/>
<circle transform="translate(177.99 1243.18) scale(1.09 1)" r="4" fill="#ff0000"/>
<circle transform="translate(200.06 1236.17) scale(1.09 1)" r="4" fill="#ff0000"/>
<circle transform="translate(222.13 1233.17) scale(1.09 1)" r="4" fill="#ff0000"/>
<circle transform="translate(244.21 1222.15) scale(1.09 1)" r="4" fill="#ff0000"/>
<circle transform="translate(266.28 1211.64) scale(1.09 1)" r="4" fill="#ff0000"/>
<circle transform="translate(288.35 1211.64) scale(1.09 1)" r="4" fill="#ff0000"/>
<circle transform="translate(310.43 1205.14) scale(1.09 1)" r="4" fill="#ff0000"/>
<circle transform="translate(332.5 1190.62) scale(1.09 1)" r="4" fill="#ff0000"/>
<circle transform="translate(354.57 1186.62) scale(1.09 1)" r="4" fill="#ff0000"/>
<circle transform="translate(376.64 1180.61) scale(1.09 1)" r="4" fill="#ff0000"/>
<circle transform="translate(398.71 1173.61) scale(1.09 1)" r="4" fill="#ff0000"/>
<circle transform="translate(420.79 1163.1) scale(1.09 1)" r="4" fill="#ff0000"/>
<circle transform="translate(442.86 1159.59) scale(1.09 1)" r="4" fill="#ff0000"/>
<circle transform="translate(464.93 1148.58) scale(1.09 1)" r="4" fill="#ff0000"/>
<circle transform="translate(487 1141.57) scale(1.09 1)" r="4" fill="#ff0000"/>
<circle transform="translate(509.08 1134.57) scale(1.09 1)" r="4" fill="#ff0000"/>
<circle transform="translate(531.15 1127.56) scale(1.09 1)" r="4" fill="#ff0000"/>
<circle transform="translate(553.22 1121.05) scale(1.09 1)" r="4" fill="#ff0000"/>
<circle transform="translate(575.3 1114.05) scale(1.09 1)" r="4" fill="#ff0000"/>
<polyline points="133.84,1257.69 155.92,1247.68 177.99,1244.18 200.06,1237.17 222.13,1234.17 244.21,1223.15 266.28,1212.64 288.35,1212.64 310.43,1206.14 332.5,1191.62 354.57,1187.62 376.64,1181.61 398.71,1174.61 420.79,1164.1 442.86,1160.59 464.93,1149.58 487,1142.57 509.08,1135.57 531.15,1128.56 553.22,1122.05 575.3,1115.05" fill="none" stroke="#00ff00" stroke-width="2.8" stroke-linejoin="round"/>
<path transform="translate(133.84 1257.69) scale(1.09 1)" d="M-4.6 -2.87L4.6 -2.87L0 5.73Z" fill="#00ff00"/>
<path transform="translate(155.92 1247.68) scale(1.09 1)" d="M-4.6 -2.87L4.6 -2.87L0 5.73Z" fill="#00ff00"/>
<path transform="translate(177.99 1244.18) scale(1.09 1)" d="M-4.6 -2.87L4.6 -2.87L0 5.73Z" fill="#00ff00"/>
<path transform="translate(200.06 1237.17) scale(1.09 1)" d="M-4.6 -2.87L4.6 -2.87L0 5.73Z" fill="#00ff00"/>
<path transform="translate(222.13 1234.17) scale(1.09 1)" d="M-4.6 -2.87L4.6 -2.87L0 5.73Z" fill="#00ff00"/>
<path transform="translate(244.21 1223.15) scale(1.09 1)" d="M-4.6 -2.87L4.6 -2.87L0 5.73Z" fill="#00ff00"/>
<path transform="translate(266.28 1212.64) scale(1.09 1)" d="M-4.6 -2.87L4.6 -2.87L0 5.73Z" fill="#00ff00"/>
<path transform="translate(288.35 1212.64) scale(1.09 1)" d="M-4.6 -2.87L4.6 -2.87L0 5.73Z" fill="#00ff00"/>
<path transform="translate(310.43 1206.14) scale(1.09 1)" d="M-4.6 -2.87L4.6 -2.87L0 5.73Z" fill="#00ff00"/>
<path transform="translate(332.5 1191.62) scale(1.09 1)" d="M-4.6 -2.87L4.6 -2.87L0 5.73Z" fill="#00ff00"/>
<path transform="translate(354.57 1187.62) scale(1.09 1)" d="M-4.6 -2.87L4.6 -2.87L0 5.73Z" fill="#00ff00"/>
<path transform="translate(376.64 1181.61) scale(1.09 1)" d="M-4.6 -2.87L4.6 -2.87L0 5.73Z" fill="#00ff00"/>
<path transform="translate(398.71 1174.61) scale(1.09 1)" d="M-4.6 -2.87L4.6 -2.87L0 5.73Z" fill="#00ff00"/>
<path transform="translate(420.79 1164.1) scale(1.09 1)" d="M-4.6 -2.87L4.6 -2.87L0 5.73Z" fill="#00ff00"/>
<path transform="translate(442.86 1160.59) scale(1.09 1)" d="M-4.6 -2.87L4.6 -2.87L0 5.73Z" fill="#00ff00"/>
<path transform="translate(464.93 1149.58) scale(1.09 1)" d="M-4.6 -2.87L4.6 -2.87L0 5.73Z" fill="#00ff00"/>
<path transform="translate(487 1142.57) scale(1.09 1)" d="M-4.6 -2.87L4.6 -2.87L0 5.73Z" fill="#00ff00"/>
<path transform="translate(509.08 1135.57) scale(1.09 1)" d="M-4.6 -2.87L4.6 -2.87L0 5.73Z" fill="#00ff00"/>
<path transform="translate(531.15 1128.56) scale(1.09 1)" d="M-4.6 -2.87L4.6 -2.87L0 5.73Z" fill="#00ff00"/>
<path transform="translate(553.22 1122.05) scale(1.09 1)" d="M-4.6 -2.87L4.6 -2.87L0 5.73Z" fill="#00ff00"/>
<path transform="translate(575.3 1115.05) scale(1.09 1)" d="M-4.6 -2.87L4.6 -2.87L0 5.73Z" fill="#00ff00"/>
<polyline points="133.84,1257.69 155.92,1247.68 177.99,1244.18 200.06,1237.17 222.13,1234.17 244.21,1223.15 266.28,1212.64 288.35,1212.64 310.43,1206.14 332.5,1191.62 354.57,1187.62 376.64,1181.61 398.71,1174.61 420.79,1164.1 442.86,1160.59 464.93,1149.58 487,1142.57 509.08,1135.57 531.15,1128.56 553.22,1122.05 575.3,1115.05" fill="none" stroke="#ffff00" stroke-width="2.8" stroke-linejoin="round"/>
<path transform="translate(133.84 1257.69) scale(1.09 1)" d="M-4.6 2.87L4.6 2.87L0 -5.73Z" fill="#ffff00"/>
<path transform="translate(155.92 1247.68) scale(1.09 1)" d="M-4.6 2.87L4.6 2.87L0 -5.73Z" fill="#ffff00"/>
<path transform="translate(177.99 1244.18) scale(1.09 1)" d="M-4.6 2.87L4.6 2.87L0 -5.73Z" fill="#ffff00"/>
<path transform="translate(200.06 1237.17) scale(1.09 1)" d="M-4.6 2.87L4.6 2.87L0 -5.73Z" fill="#ffff00"/>
<path transform="translate(222.13 1234.17) scale(1.09 1)" d="M-4.6 2.87L4.6 2.87L0 -5.73Z" fill="#ffff00"/>
<path transform="translate(244.21 1223.15) scale(1.09 1)" d="M-4.6 2.87L4.6 2.87L0 -5.73Z" fill="#ffff00"/>
<path transform="translate(266.28 1212.64) scale(1.09 1)" d="M-4.6 2.87L4.6 2.87L0 -5.73Z" fill="#ffff00"/>
<path transform="translate(288.35 1212.64) scale(1.09 1)" d="M-4.6 2.87L4.6 2.87L0 -5.73Z" fill="#ffff00"/>
<path transform="translate(310.43 1206.14) scale(1.09 1)" d="M-4.6 2.87L4.6 2.87L0 -5.73Z" fill="#ffff00"/>
<path transform="translate(332.5 1191.62) scale(1.09 1)" d="M-4.6 2.87L4.6 2.87L0 -5.73Z" fill="#ffff00"/>
<path transform="translate(354.57 1187.62) scale(1.09 1)" d="M-4.6 2.87L4.6 2.87L0 -5.73Z" fill="#ffff00"/>
<path transform="translate(376.64 1181.61) scale(1.09 1)" d="M-4.6 2.87L4.6 2.87L0 -5.73Z" fill="#ffff00"/>
<path transform="translate(398.71 1174.61) scale(1.09 1)" d="M-4.6 2.87L4.6 2.87L0 -5.73Z" fill="#ffff00"/>
<path transform="translate(420.79 1164.1) scale(1.09 1)" d="M-4.6 2.87L4.6 2.87L0 -5.73Z" fill="#ffff00"/>
<path transform="translate(442.86 1160.59) scale(1.09 1)" d="M-4.6 2.87L4.6 2.87L0 -5.73Z" fill="#ffff00"/>
<path transform="translate(464.93 1149.58) scale(1.09 1)" d="M-4.6 2.87L4.6 2.87L0 -5.73Z" fill="#ffff00"/>
<path transform="translate(487 1142.57) scale(1.09 1)" d="M-4.6 2.87L4.6 2.87L0 -5.73Z" fill="#ffff00"/>
<path transform="translate(509.08 1135.57) scale(1.09 1)" d="M-4.6 2.87L4.6 2.87L0 -5.73Z" fill="#ffff00"/>
<path transform="translate(531.15 1128.56) scale(1.09 1)" d="M-4.6 2.87L4.6 2.87L0 -5.73Z" fill="#ffff00"/>
<path transform="translate(553.22 1122.05) scale(1.09 1)" d="M-4.6 2.87L4.6 2.87L0 -5.73Z" fill="#ffff00"/>
<path transform="translate(575.3 1115.05) scale(1.09 1)" d="M-4.6 2.87L4.6 2.87L0 -5.73Z" fill="#ffff00"/>
<polyline points="133.84,1263.19 155.92,1258.19 177.99,1256.44 200.06,1252.93 222.13,1251.43 244.21,1245.93 266.28,1240.67 288.35,1240.67 310.43,1237.42 332.5,1230.16 354.57,1228.16 376.64,1225.16 398.71,1221.65 420.79,1216.4 442.86,1214.65 464.93,1209.14 487,1205.64 509.08,1202.13 531.15,1198.63 553.22,1195.38 575.3,1191.87" fill="none" stroke="#0000ff" stroke-width="2.8" stroke-linejoin="round"/>
<rect transform="translate(133.84 1263.19) scale(1.09 1)" x="-3.95" y="-3.95" width="7.9" height="7.9" fill="#0000ff"/>
<rect transform="translate(155.92 1258.19) scale(1.09 1)" x="-3.95" y="-3.95" width="7.9" height="7.9" fill="#0000ff"/>
<rect transform="translate(177.99 1256.44) scale(1.09 1)" x="-3.95" y="-3.95" width="7.9" height="7.9" fill="#0000ff"/>
<rect transform="translate(200.06 1252.93) scale(1.09 1)" x="-3.95" y="-3.95" width="7.9" height="7.9" fill="#0000ff"/>
<rect transform="translate(222.13 1251.43) scale(1.09 1)" x="-3.95" y="-3.95" width="7.9" height="7.9" fill="#0000ff"/>
<rect transform="translate(244.21 1245.93) scale(1.09 1)" x="-3.95" y="-3.95" width="7.9" height="7.9" fill="#0000ff"/>
<rect transform="translate(266.28 1240.67) scale(1.09 1)" x="-3.95" y="-3.95" width="7.9" height="7.9" fill="#0000ff"/>
<rect transform="translate(288.35 1240.67) scale(1.09 1)" x="-3.95" y="-3.95" width="7.9" height="7.9" fill="#0000ff"/>
<rect transform="translate(310.43 1237.42) scale(1.09 1)" x="-3.95" y="-3.95" width="7.9" height="7.9" fill="#0000ff"/>
<rect transform="translate(332.5 1230.16) scale(1.09 1)" x="-3.95" y="-3.95" width="7.9" height="7.9" fill="#0000ff"/>
<rect transform="translate(354.57 1228.16) scale(1.09 1)" x="-3.95" y="-3.95" width="7.9" height="7.9" fill="#0000ff"/>
<rect transform="translate(376.64 1225.16) scale(1.09 1)" x="-3.95" y="-3.95" width="7.9" height="7.9" fill="#0000ff"/>
<rect transform="translate(398.71 1221.65) scale(1.09 1)" x="-3.95" y="-3.95" width="7.9" height="7.9" fill="#0000ff"/>
<rect transform="translate(420.79 1216.4) scale(1.09 1)" x="-3.95" y="-3.95" width="7.9" height="7.9" fill="#0000ff"/>
<rect transform="translate(442.86 1214.65) scale(1.09 1)" x="-3.95" y="-3.95" width="7.9" height="7.9" fill="#0000ff"/>
<rect transform="translate(464.93 1209.14) scale(1.09 1)" x="-3.95" y="-3.95" width="7.9" height="7.9" fill="#0000ff"/>
<rect transform="translate(487 1205.64) scale(1.09 1)" x="-3.95" y="-3.95" width="7.9" height="7.9" fill="#0000ff"/>
<rect transform="translate(509.08 1202.13) scale(1.09 1)" x="-3.95" y="-3.95" width="7.9" height="7.9" fill="#0000ff"/>
<rect transform="translate(531.15 1198.63) scale(1.09 1)" x="-3.95" y="-3.95" width="7.9" height="7.9" fill="#0000ff"/>
<rect transform="translate(553.22 1195.38) scale(1.09 1)" x="-3.95" y="-3.95" width="7.9" height="7.9" fill="#0000ff"/>
<rect transform="translate(575.3 1191.87) scale(1.09 1)" x="-3.95" y="-3.95" width="7.9" height="7.9" fill="#0000ff"/>
<polyline points="133.84,1243.67 155.92,1230.66 177.99,1218.15 200.06,1205.64 222.13,1195.63 244.21,1183.11 266.28,1170.6 288.35,1158.09 310.43,1145.58 332.5,1133.06 354.57,1120.55 376.64,1108.04 398.71,1098.03 420.79,1083.01 442.86,1070.5 464.93,1060.49 487,1047.98 509.08,1037.97 531.15,1025.46 553.22,1010.44 575.3,997.93" fill="none" stroke="#000000" stroke-width="2.8" stroke-linejoin="round"/>
<circle transform="translate(133.84 1243.67) scale(1.09 1)" r="4" fill="#000000"/>
<circle transform="translate(155.92 1230.66) scale(1.09 1)" r="4" fill="#000000"/>
<circle transform="translate(177.99 1218.15) scale(1.09 1)" r="4" fill="#000000"/>
<circle transform="translate(200.06 1205.64) scale(1.09 1)" r="4" fill="#000000"/>
<circle transform="translate(222.13 1195.63) scale(1.09 1)" r="4" fill="#000000"/>
<circle transform="translate(244.21 1183.11) scale(1.09 1)" r="4" fill="#000000"/>
<circle transform="translate(266.28 1170.6) scale(1.09 1)" r="4" fill="#000000"/>
<circle transform="translate(288.35 1158.09) scale(1.09 1)" r="4" fill="#000000"/>
<circle transform="translate(310.43 1145.58) scale(1.09 1)" r="4" fill="#000000"/>
<circle transform="translate(332.5 1133.06) scale(1.09 1)" r="4" fill="#000000"/>
<circle transform="translate(354.57 1120.55) scale(1.09 1)" r="4" fill="#000000"/>
<circle transform="translate(376.64 1108.04) scale(1.09 1)" r="4" fill="#000000"/>
<circle transform="translate(398.71 1098.03) scale(1.09 1)" r="4" fill="#000000"/>
<circle transform="translate(420.79 1083.01) scale(1.09 1)" r="4" fill="#000000"/>
<circle transform="translate(442.86 1070.5) scale(1.09 1)" r="4" fill="#000000"/>
<circle transform="translate(464.93 1060.49) scale(1.09 1)" r="4" fill="#000000"/>
<circle transform="translate(487 1047.98) scale(1.09 1)" r="4" fill="#000000"/>
<circle transform="translate(509.08 1037.97) scale(1.09 1)" r="4" fill="#000000"/>
<circle transform="translate(531.15 1025.46) scale(1.09 1)" r="4" fill="#000000"/>
<circle transform="translate(553.22 1010.44) scale(1.09 1)" r="4" fill="#000000"/>
<circle transform="translate(575.3 997.93) scale(1.09 1)" r="4" fill="#000000"/>
<rect x="90.8" y="968.5" width="261.2" height="92" fill="#fff" stroke="#1e1e1e" stroke-width="1.5"/>
<path d="M101.1 989.5H134.7" stroke="#000000" stroke-width="2.8"/>
<circle transform="translate(117.3 989.5) scale(1.09 1)" r="3.9" fill="#000000"/>
<text transform="translate(146.14 997.4) scale(1 1)" font-family='"Liberation Serif", serif' font-weight="bold" font-size="13" text-anchor="start" textLength="78.2" lengthAdjust="spacing">Blank @40°C</text>
<path d="M101.1 1009.7H134.7" stroke="#00ff00" stroke-width="2.8"/>
<path transform="translate(117.9 1009.7) scale(1.09 1)" d="M-4.6 -2.87L4.6 -2.87L0 5.73Z" fill="#00ff00"/>
<text transform="translate(146.14 1014.3) scale(1 1)" font-family='"Liberation Serif", serif' font-weight="bold" font-size="13" text-anchor="start" textLength="178.7" lengthAdjust="spacing">1000 ppm of PET/Jatropha Oil</text>
<path d="M101.1 1026.5H134.7" stroke="#ffff00" stroke-width="2.8"/>
<path transform="translate(117.9 1026.5) scale(1.09 1)" d="M-4.6 2.87L4.6 2.87L0 -5.73Z" fill="#ffff00"/>
<text transform="translate(146.14 1031.3) scale(1 1)" font-family='"Liberation Serif", serif' font-weight="bold" font-size="13" text-anchor="start" textLength="178.7" lengthAdjust="spacing">2000 ppm of PET/Jatropha Oil</text>
<path d="M101.1 1043.8H134.7" stroke="#0000ff" stroke-width="2.8"/>
<rect transform="translate(117.9 1043.8) scale(1.09 1)" x="-3.95" y="-3.95" width="7.9" height="7.9" fill="#0000ff"/>
<text transform="translate(146.14 1048.2) scale(1 1)" font-family='"Liberation Serif", serif' font-weight="bold" font-size="13" text-anchor="start" textLength="178.7" lengthAdjust="spacing">3000 ppm of PET/Jatropha Oil</text>
<text transform="translate(273.28 1376.2) scale(1.09 1)" font-family='"Liberation Serif", serif' font-weight="bold" font-size="22" textLength="150.18" lengthAdjust="spacing">Shear Rate (S<tspan font-size="13.2" dy="-10.78">-1</tspan><tspan dy="10.78">)</tspan></text>
<text transform="translate(50.9 1243.98) scale(1.09 1) rotate(-90)" font-family='"Liberation Serif", serif' font-weight="bold" font-size="23.3" textLength="200.3" lengthAdjust="spacing">Shear stress (N/m<tspan font-size="15.38" dy="-11.65">2</tspan><tspan dy="11.65">)</tspan></text>
<text x="659.05" y="1376.5" font-family='"Liberation Sans", sans-serif' font-size="22.5">(c)</text>
</svg>
</body></html>
